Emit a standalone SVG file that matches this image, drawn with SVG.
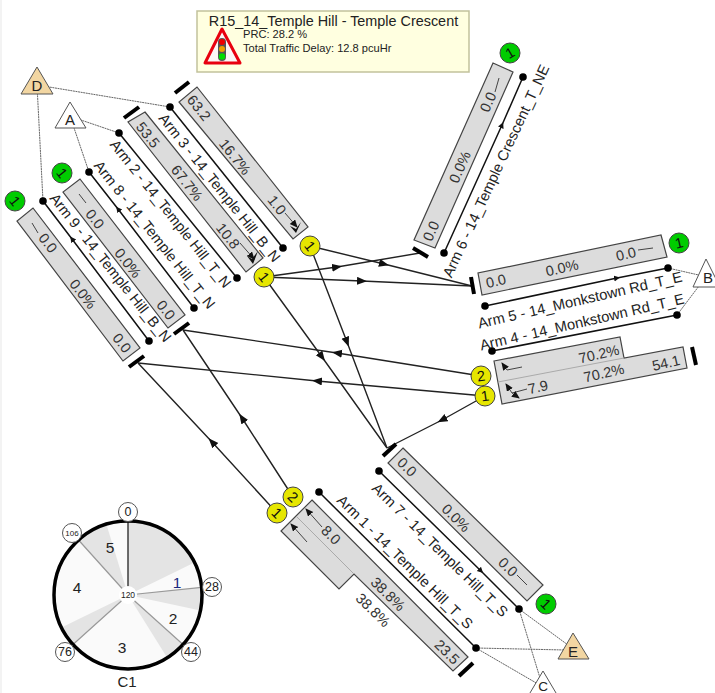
<svg xmlns="http://www.w3.org/2000/svg" width="715" height="693" viewBox="0 0 715 693">
<style>
text{font-family:"Liberation Sans",Arial,sans-serif;fill:#222;text-anchor:middle;dominant-baseline:central}
.box{fill:#dcdcdc;stroke:#444;stroke-width:1.2}
.div{stroke:#aaa;stroke-width:1;fill:none}
.val{font-size:14.5px;fill:#333}
.lab{font-size:14.7px}
.lane{fill:none;stroke:#444;stroke-width:1}
.head{fill:#111}
.arm{fill:none;stroke:#111;stroke-width:1.5;marker-mid:url(#as)}
.dot{fill:#000}
.stop{stroke:#000;stroke-width:4;fill:none}
.flow{fill:none;stroke:#222;stroke-width:1.4;marker-mid:url(#ah)}
.link{fill:none;stroke:#555;stroke-width:.9;stroke-dasharray:2 .6}
.green{fill:#0c0;stroke:#444;stroke-width:1}
.yellow{fill:#e6e600;stroke:#444;stroke-width:1}
.lamp{font-size:14.5px;fill:#111}
.zone{stroke:#555;stroke-width:1}
.tick{fill:#fff;stroke:#555;stroke-width:1}
.ray{stroke:#999;stroke-width:1.2}
</style>
<defs>
<marker id="ah" markerUnits="userSpaceOnUse" markerWidth="12" markerHeight="10" refX="5" refY="4" orient="auto"><path d="M0 0L10 4L0 8z" fill="#111"/></marker>
<marker id="as" markerUnits="userSpaceOnUse" markerWidth="8" markerHeight="8" refX="3" refY="3" orient="auto"><path d="M0 0L6 3L0 6z" fill="#111"/></marker>
<marker id="lh" markerUnits="userSpaceOnUse" markerWidth="9" markerHeight="9" refX="7" refY="3.5" orient="auto"><path d="M0 0L8 3.5L0 7z" fill="#111"/></marker>
</defs>
<rect x="0" y="0" width="2" height="693" fill="#f3f3f3"/>

<g id="connectors">
<path class="link" d="M37 85L170 107"/>
<path class="link" d="M37 85L43 201"/>
<path class="link" d="M75 118L119 133"/>
<path class="link" d="M72 122L89 172"/>
<path class="link" d="M668 268L703 276"/>
<path class="link" d="M677 315L702 282"/>
<path class="link" d="M519 609L568 645"/>
<path class="link" d="M476 648L565 650"/>
<path class="link" d="M519 609L540 678"/>
<path class="link" d="M476 648L538 684"/>
<path class="flow" d="M310 246L384 264L472 286"/>
<path class="flow" d="M264 277L337 267L420 253"/>
<path class="flow" d="M264 277L362 281L472 286"/>
<path class="flow" d="M264 277L322 357L387 448"/>
<path class="flow" d="M310 246L347 342L387 448"/>
<path class="flow" d="M481 376L337 353L183 330"/>
<path class="flow" d="M485 396L317 381L138 363"/>
<path class="flow" d="M485 396L442 420L387 448"/>
<path class="flow" d="M277 513L212 442L138 363"/>
<path class="flow" d="M293 497L242 418L183 330"/>
</g>

<g id="arm3">
<polygon class="box" points="197,87 308,227 293,239 179,102"/>
<text class="val" transform="translate(199 108) rotate(51.5)">63.2</text><text class="val" transform="translate(235 157) rotate(51.5)">16.7%</text><text class="val" transform="translate(277 205) rotate(51.5)">1.0</text>
<path class="lane" d="M285 213L297 227" marker-end="url(#lh)"/><path class="head" d="M301 222L296 229L290 226L296 233z"/>
<path class="stop" d="M175 93L189 82"/>
<path class="arm" d="M170 107L283 248"/><circle class="dot" cx="170" cy="107" r="3.8"/><circle class="dot" cx="283" cy="248" r="3.8"/>
<text class="lab" transform="translate(219.500 187.800) rotate(51.5)">Arm 3 - 14_Temple Hill_B_N</text>
</g>

<g id="arm2">
<polygon class="box" points="145,112 263,258 246,272 128,122"/>
<text class="val" transform="translate(148 135) rotate(51.5)">53.5</text><text class="val" transform="translate(187 183) rotate(51.5)">67.7%</text><text class="val" transform="translate(228 236) rotate(51.5)">10.8</text>
<path class="lane" d="M240 243L254 259" marker-end="url(#lh)"/><path class="head" d="M258 251L252 259L247 256L253 264z"/>
<path class="stop" d="M124 118L139 107"/>
<path class="arm" d="M119 133L237 278"/><circle class="dot" cx="119" cy="133" r="3.8"/><circle class="dot" cx="237" cy="278" r="3.8"/>
<text class="lab" transform="translate(170.500 213.800) rotate(51.5)">Arm 2 - 14_Temple Hill_T_N</text>
</g>

<g id="arm8">
<polygon class="box" points="80,179 185,315 168,328 63,192"/>
<path class="lane" d="M79 194L86 203"/>
<text class="val" transform="translate(95 219) rotate(51.5)">0.0</text><text class="val" transform="translate(128 263) rotate(51.5)">0.0%</text><text class="val" transform="translate(166 310) rotate(51.5)">0.0</text>
<path class="stop" d="M174 334L189 323"/>
<path class="arm" d="M194 308L118 209L89 172"/><circle class="dot" cx="89" cy="172" r="3.8"/><circle class="dot" cx="194" cy="308" r="3.8"/>
<text class="lab" transform="translate(154.500 234.800) rotate(51.5)">Arm 8 - 14_Temple Hill_T_N</text>
</g>

<g id="arm9">
<polygon class="box" points="33,208 140,348 123,361 17,221"/>
<path class="lane" d="M32 223L38 233"/>
<text class="val" transform="translate(48 243) rotate(51.5)">0.0</text><text class="val" transform="translate(83 294) rotate(51.5)">0.0%</text><text class="val" transform="translate(122 343) rotate(51.5)">0.0</text>
<path class="stop" d="M129 367L144 356"/>
<path class="arm" d="M149 341L72 239L43 201"/><circle class="dot" cx="43" cy="201" r="3.8"/><circle class="dot" cx="149" cy="341" r="3.8"/>
<text class="lab" transform="translate(110.500 267.800) rotate(51.5)">Arm 9 - 14_Temple Hill_B_N</text>
</g>

<g id="arm6">
<polygon class="box" points="493,63 513,72 435,248 414,240"/>
<text class="val" transform="translate(431 231) rotate(-66)">0.0</text><text class="val" transform="translate(460 167) rotate(-66)">0.0%</text><text class="val" transform="translate(488 102) rotate(-66)">0.0</text>
<path class="lane" d="M499 78L495 92"/>
<path class="stop" d="M413 248L428 257"/>
<path class="arm" d="M444 253L502 125L523 77"/><circle class="dot" cx="523" cy="77" r="3.8"/><circle class="dot" cx="444" cy="253" r="3.8"/>
<text class="lab" transform="translate(496 171) rotate(-65)">Arm 6 - 14_Temple Crescent_T_NE</text>
</g>

<g id="arm5">
<polygon class="box" points="661,235 667,257 482,295 478,273"/>
<text class="val" transform="translate(496 281) rotate(-13)">0.0</text><text class="val" transform="translate(562 268) rotate(-13)">0.0%</text><text class="val" transform="translate(626 254) rotate(-13)">0.0</text>
<path class="lane" d="M638 250L653 248"/>
<path class="stop" d="M471 277L474 294"/>
<path class="arm" d="M485 306L617 278L668 268"/><circle class="dot" cx="668" cy="268" r="3.8"/><circle class="dot" cx="485" cy="306" r="3.8"/>
<text class="lab" transform="translate(580 300) rotate(-13)">Arm 5 - 14_Monkstown Rd_T_E</text>
</g>

<g id="arm4">
<polygon class="box" points="494,361 620,337 624,358 683,347 687,368 502,404"/>
<path class="div" d="M498 382L624 358"/>
<text class="val" transform="translate(599 354) rotate(-13)">70.2%</text><text class="val" transform="translate(604 373) rotate(-13)">70.2%</text><text class="val" transform="translate(538 387) rotate(-13)">7.9</text><text class="val" transform="translate(666 363) rotate(-13)">54.1</text>
<path class="lane" d="M522 367L507 370L502 363" marker-end="url(#lh)"/>
<path class="lane" d="M527 389L512 393L506 384" marker-end="url(#lh)"/><path class="lane" d="M512 393L519 398" marker-end="url(#lh)"/>
<path class="stop" d="M692 347L696 365"/>
<path class="arm" d="M677 315L492 351"/><circle class="dot" cx="677" cy="315" r="3.8"/><circle class="dot" cx="492" cy="351" r="3.8"/>
<text class="lab" transform="translate(582 322) rotate(-13)">Arm 4 - 14_Monkstown Rd_T_E</text>
</g>

<g id="arm7">
<polygon class="box" points="403,448 543,585 527,601 388,463"/>
<text class="val" transform="translate(407 467) rotate(44.5)">0.0</text><text class="val" transform="translate(456 518) rotate(44.5)">0.0%</text><text class="val" transform="translate(508 567) rotate(44.5)">0.0</text>
<path class="lane" d="M517 575L527 585"/>
<path class="stop" d="M383 456L396 444"/>
<path class="arm" d="M379 471L481 571L519 609"/><circle class="dot" cx="379" cy="471" r="3.8"/><circle class="dot" cx="519" cy="609" r="3.8"/>
<text class="lab" transform="translate(440 550) rotate(44.5)">Arm 7 - 14_Temple Hill_T_S</text>
</g>

<g id="arm1">
<polygon class="box" points="312,500 468,657 453,671 354,574 339,589 281,531"/>
<path class="div" d="M297 517L354 574"/>
<text class="val" transform="translate(331 535) rotate(44.5)">8.0</text><text class="val" transform="translate(388 594) rotate(44.5)">38.8%</text><text class="val" transform="translate(373 610) rotate(44.5)">38.8%</text><text class="val" transform="translate(447 652) rotate(44.5)">23.5</text>
<path class="lane" d="M322 527L306 509" marker-end="url(#lh)"/>
<path class="lane" d="M307 542L291 524" marker-end="url(#lh)"/>
<path class="stop" d="M459 676L473 663"/>
<path class="arm" d="M319 492L476 648"/><circle class="dot" cx="319" cy="492" r="3.8"/><circle class="dot" cx="476" cy="648" r="3.8"/>
<text class="lab" transform="translate(405 562) rotate(44.5)">Arm 1 - 14_Temple Hill_T_S</text>
</g>

<g id="zone-D"><polygon class="zone" fill="#f2d6a2" points="37,67 21,94 53,94"/><text x="37" y="85" font-size="15">D</text></g>
<g id="zone-A"><polygon class="zone" fill="#fff" points="70,102 55,128 86,128"/><text x="70" y="119" font-size="15">A</text></g>
<g id="zone-B"><polygon class="zone" fill="#fff" points="706,259 693,287 720,287"/><text x="708" y="277" font-size="15">B</text></g>
<g id="zone-E"><polygon class="zone" fill="#f2d6a2" points="573,633 558,659 589,659"/><text x="573" y="651" font-size="15">E</text></g>
<g id="zone-C"><polygon class="zone" fill="#fff" points="543,671 527,698 559,698"/><text x="543" y="686" font-size="13.500">C</text></g>

<g id="lamps">
<g><circle class="green" cx="15" cy="201" r="10"/><text class="lamp" transform="translate(15 201) rotate(51.5)">1</text></g>
<g><circle class="green" cx="62" cy="173" r="10"/><text class="lamp" transform="translate(62 173) rotate(51.5)">1</text></g>
<g><circle class="green" cx="510" cy="53" r="10"/><text class="lamp" transform="translate(510 53) rotate(-30)">1</text></g>
<g><circle class="green" cx="679" cy="243" r="10"/><text class="lamp" transform="translate(679 243) rotate(-13)">1</text></g>
<g><circle class="green" cx="546" cy="604" r="10"/><text class="lamp" transform="translate(546 604) rotate(44.5)">1</text></g>
<g><circle class="yellow" cx="310" cy="246" r="10"/><text class="lamp" transform="translate(310 246) rotate(51.5)">1</text></g>
<g><circle class="yellow" cx="264" cy="277" r="10"/><text class="lamp" transform="translate(264 277) rotate(51.5)">1</text></g>
<g><circle class="yellow" cx="481" cy="376" r="10"/><text class="lamp" transform="translate(481 376) rotate(-8)">2</text></g>
<g><circle class="yellow" cx="485" cy="396" r="10"/><text class="lamp" transform="translate(485 396) rotate(-8)">1</text></g>
<g><circle class="yellow" cx="293" cy="497" r="10"/><text class="lamp" transform="translate(293 497) rotate(44.5)">2</text></g>
<g><circle class="yellow" cx="277" cy="513" r="10"/><text class="lamp" transform="translate(277 513) rotate(44.5)">1</text></g>
</g>

<g id="tooltip">
<rect x="197" y="11" width="272" height="61" fill="#ffffe0" stroke="#c2c29c" stroke-width="1.5"/>
<text x="333.500" y="21" font-size="14.400">R15_14_Temple Hill - Temple Crescent</text>
<path d="M235 28.500H243" stroke="#222" stroke-width="1" fill="none"/>
<polygon points="222,29 205,63 240,63" fill="#fbf6f6" stroke="#e8000f" stroke-width="3" stroke-linejoin="round"/>
<rect x="218" y="38" width="8" height="23" rx="4" fill="#555"/>
<circle cx="222" cy="42" r="3" fill="#e00"/><circle cx="222" cy="49" r="3" fill="#f0a000"/><circle cx="222" cy="56.500" r="3.200" fill="#0d0"/>
<text x="243" y="34" font-size="11.100" style="text-anchor:start">PRC: 28.2 %</text>
<text x="243" y="48" font-size="11.100" style="text-anchor:start">Total Traffic Delay: 12.8 pcuHr</text>
</g>

<g id="clock">
<circle cx="128" cy="595" r="74" fill="#fafafa"/>
<path fill="#e4e4e4" d="M128 595L128 521A74 74 0 0 1 194.500 562.600z"/>
<path fill="#e4e4e4" d="M128 595L201.600 587.300A74 74 0 0 1 200.400 610.400z"/>
<path fill="#e4e4e4" d="M128 595L183 644.500A74 74 0 0 1 167.200 657.800z"/>
<path fill="#e4e4e4" d="M128 595L73 644.500A74 74 0 0 1 61.500 627.400z"/>
<path fill="#e4e4e4" d="M128 595L78.500 540A74 74 0 0 1 106.400 524.200z"/>
<path class="ray" d="M128 595L201.600 587.300M128 595L183 644.500M128 595L73 644.500M128 595L78.500 540"/>
<path d="M128 595V521" stroke="#222" stroke-width="1.300"/>
<circle cx="128" cy="595" r="9" fill="#fff"/>
<circle cx="128" cy="595" r="74" fill="none" stroke="#000" stroke-width="3.500"/>
<text x="128" y="595" font-size="8.500">120</text>
<circle class="tick" cx="128" cy="512" r="9.500"/><text x="128" y="511.500" font-size="12.500">0</text>
<circle class="tick" cx="72" cy="533" r="9.500"/><text x="72" y="533" font-size="8">106</text>
<circle class="tick" cx="212" cy="587" r="9.500"/><text x="212" y="587" font-size="12.500">28</text>
<circle class="tick" cx="191" cy="652" r="9.500"/><text x="191" y="652" font-size="12.500">44</text>
<circle class="tick" cx="65" cy="652" r="9.500"/><text x="65" y="652" font-size="12.500">76</text>
<text x="110" y="547" font-size="15.500">5</text>
<text x="177" y="582" font-size="15.500" style="fill:#1a2a80">1</text>
<text x="173" y="618" font-size="15.500">2</text>
<text x="122" y="647" font-size="15.500">3</text>
<text x="77" y="587" font-size="15.500">4</text>
<text x="127" y="681" font-size="15">C1</text>
</g>
</svg>
